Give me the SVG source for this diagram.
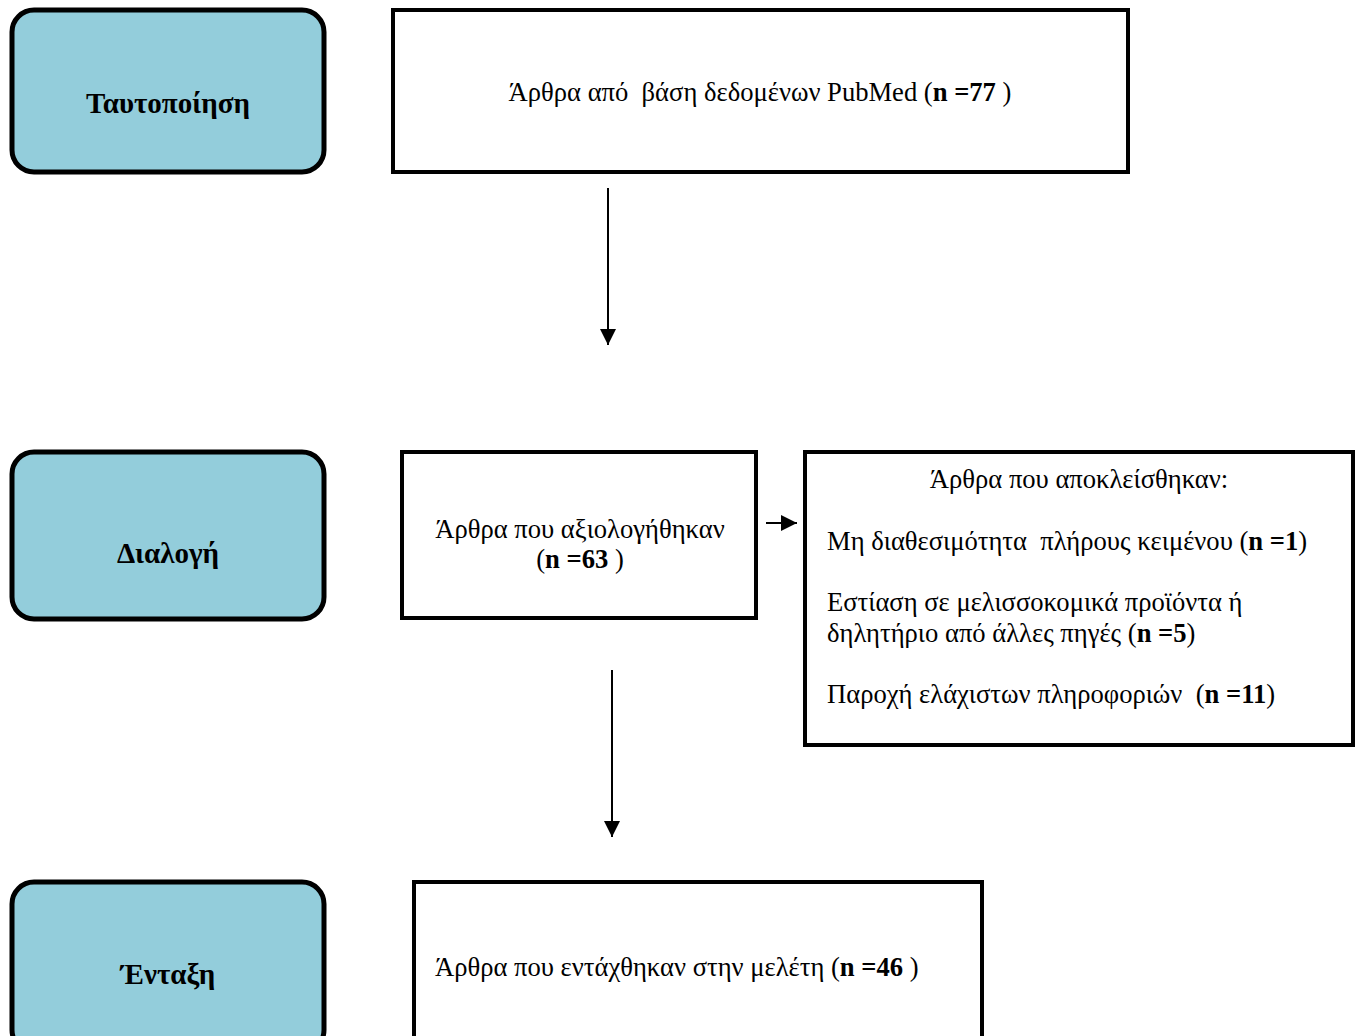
<svg xmlns="http://www.w3.org/2000/svg" width="1362" height="1036" viewBox="0 0 1362 1036">
<style>
.stage{fill:#93CDDB;stroke:#000;stroke-width:5}
.box{fill:#fff;stroke:#000;stroke-width:4}
.lbl{font-family:"Liberation Serif","Times New Roman",serif;font-weight:bold;font-size:29px;fill:#000}
.t{font-family:"Liberation Serif","Times New Roman",serif;font-size:26.6px;fill:#000}
.conn{stroke:#000;stroke-width:2;fill:none}
</style>
<defs>
<marker id="ah2" viewBox="0 0 10 10" refX="10" refY="5" markerWidth="16" markerHeight="16" markerUnits="userSpaceOnUse" orient="auto">
<path d="M0,0 L10,5 L0,10 Z" fill="#000"/>
</marker>
</defs>
<rect width="1362" height="1036" fill="#fff"/>
<g id="stage-identification">
<rect class="stage" x="12" y="10" width="312" height="162" rx="22"/>
<text class="lbl" x="168" y="113" text-anchor="middle">Ταυτοποίηση</text>
</g>
<g id="node-pubmed">
<rect class="box" x="393" y="10" width="735" height="162"/>
<text class="t" x="760" y="101" text-anchor="middle" xml:space="preserve">Άρθρα από  βάση δεδομένων PubMed (<tspan font-weight="bold">n =77</tspan> )</text>
</g>
<g id="stage-screening">
<rect class="stage" x="12" y="452" width="312" height="167" rx="22"/>
<text class="lbl" x="168" y="563" text-anchor="middle">Διαλογή</text>
</g>
<g id="node-assessed">
<rect class="box" x="402" y="452" width="354" height="166"/>
<text class="t" x="580" y="538" text-anchor="middle">Άρθρα που αξιολογήθηκαν</text>
<text class="t" x="580" y="568" text-anchor="middle" xml:space="preserve">(<tspan font-weight="bold">n =63</tspan> )</text>
</g>
<g id="node-excluded">
<rect class="box" x="805" y="452" width="548" height="293"/>
<text class="t" x="1079" y="488" text-anchor="middle">Άρθρα που αποκλείσθηκαν:</text>
<text class="t" x="827" y="550" xml:space="preserve">Μη διαθεσιμότητα  πλήρους κειμένου (<tspan font-weight="bold">n =1</tspan>)</text>
<text class="t" x="827" y="611">Εστίαση σε μελισσοκομικά προϊόντα ή</text>
<text class="t" x="827" y="642">δηλητήριο από άλλες πηγές (<tspan font-weight="bold">n =5</tspan>)</text>
<text class="t" x="827" y="703" xml:space="preserve">Παροχή ελάχιστων πληροφοριών  (<tspan font-weight="bold">n =11</tspan>)</text>
</g>
<g id="stage-inclusion">
<rect class="stage" x="12" y="882" width="312" height="170" rx="22"/>
<text class="lbl" x="168" y="984" text-anchor="middle">Ένταξη</text>
</g>
<g id="node-included">
<rect class="box" x="414" y="882" width="568" height="170"/>
<text class="t" x="435" y="976" xml:space="preserve">Άρθρα που εντάχθηκαν στην μελέτη (<tspan font-weight="bold">n =46</tspan> )</text>
</g>
<g id="connectors">
<line class="conn" x1="608" y1="188" x2="608" y2="345" marker-end="url(#ah2)"/>
<line class="conn" x1="766" y1="523" x2="797" y2="523" marker-end="url(#ah2)"/>
<line class="conn" x1="612" y1="670" x2="612" y2="837" marker-end="url(#ah2)"/>
</g>
</svg>
